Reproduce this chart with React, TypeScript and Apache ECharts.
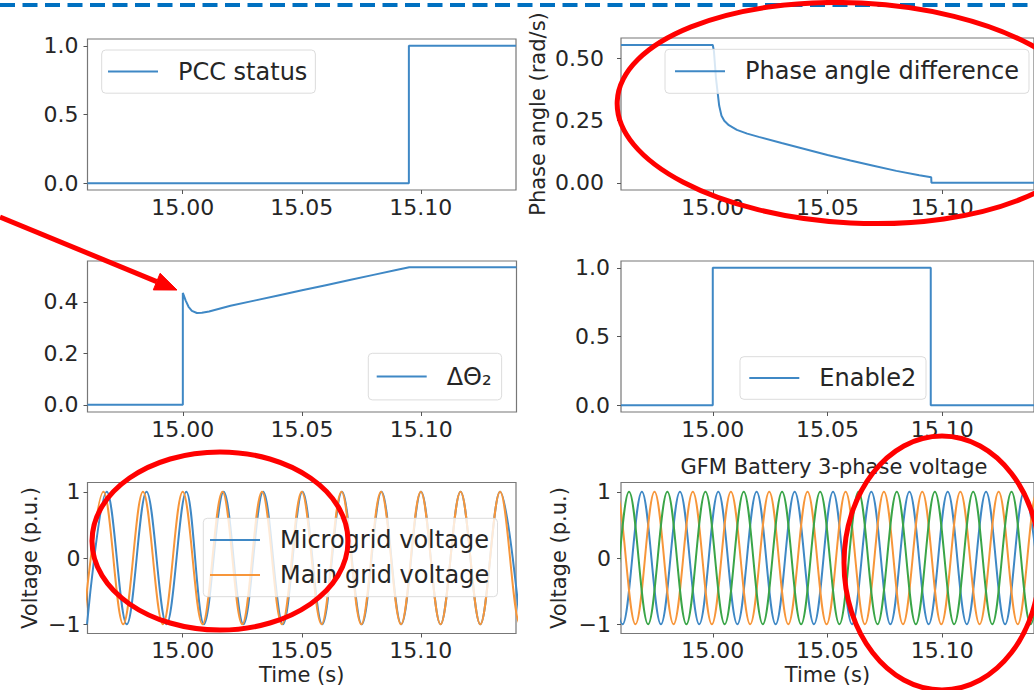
import React, { useEffect, useRef } from "react";
import * as echarts from "echarts";

// ---------- data ----------
const xMin = 14.96;
const xMax = 15.14;
const xTickValues = [15.0, 15.05, 15.1];

const pccTimes = [14.96, 15.095, 15.095, 15.14];
const pccValues = [0, 0, 1, 1];
const pccTicks = [0, 0.5, 1.0];

const phaseTimes = [14.96, 15.0, 15.0005, 15.0014, 15.0028, 15.0038, 15.005, 15.007, 15.0105, 15.015, 15.02, 15.03, 15.04, 15.05, 15.06, 15.07, 15.08, 15.09, 15.0952, 15.0953, 15.14];
const phaseValues = [0.555, 0.555, 0.53, 0.42, 0.31, 0.27, 0.25, 0.232, 0.213, 0.198, 0.185, 0.16, 0.136, 0.112, 0.09, 0.069, 0.048, 0.03, 0.022, 0.0, 0.0];
const phaseTicks = [0, 0.25, 0.5];

const dThetaTimes = [14.96, 15.0, 15.0, 15.0012, 15.0024, 15.0038, 15.0059, 15.008, 15.011, 15.02, 15.03, 15.04, 15.05, 15.06, 15.07, 15.08, 15.09, 15.095, 15.14];
const dThetaValues = [0, 0, 0.435, 0.405, 0.381, 0.365, 0.357, 0.358, 0.363, 0.385, 0.405, 0.425, 0.445, 0.465, 0.485, 0.505, 0.525, 0.535, 0.535];
const dThetaTicks = [0, 0.2, 0.4];

const enableTimes = [14.96, 15.0, 15.0, 15.095, 15.095, 15.14];
const enableValues = [0, 0, 1, 1, 0, 0];
const enableTicks = [0, 0.5, 1.0];

// sine waveforms: times of their peaks (+1) and troughs (-1)
const microPeaks = [14.9681, 14.9848, 15.0015, 15.0172, 15.0338, 15.0503, 15.0669, 15.0835, 15.1001, 15.1167, 15.1333];
const microTroughs = [14.9598, 14.9765, 14.9932, 15.0089, 15.0255, 15.0421, 15.0586, 15.0752, 15.0918, 15.1083, 15.125, 15.1417];
const mainPeaks = [14.9667, 14.9833, 15.0, 15.0167, 15.0333, 15.05, 15.0667, 15.0833, 15.1, 15.1167, 15.1333, 15.15];
const mainTroughs = [14.9583, 14.975, 14.9917, 15.0083, 15.025, 15.0417, 15.0583, 15.075, 15.0917, 15.1083, 15.125, 15.1417];

const phaseAPeaks = [14.9524, 14.9691, 14.9857, 15.0024, 15.0191, 15.0357, 15.0524, 15.0691, 15.0857, 15.1024, 15.1191, 15.1357];
const phaseATroughs = [14.9607, 14.9774, 14.9941, 15.0107, 15.0274, 15.0441, 15.0607, 15.0774, 15.0941, 15.1107, 15.1274, 15.1441];
const phaseBPeaks = [14.9579, 14.9746, 14.9913, 15.0079, 15.0246, 15.0413, 15.0579, 15.0746, 15.0913, 15.1079, 15.1246, 15.1413];
const phaseBTroughs = [14.9496, 14.9663, 14.9829, 14.9996, 15.0163, 15.0329, 15.0496, 15.0663, 15.0829, 15.0996, 15.1163, 15.1329, 15.1496];
const phaseCPeaks = [14.9468, 14.9635, 14.9802, 14.9968, 15.0135, 15.0302, 15.0468, 15.0635, 15.0802, 15.0968, 15.1135, 15.1302, 15.1468];
const phaseCTroughs = [14.9552, 14.9718, 14.9885, 15.0052, 15.0218, 15.0385, 15.0552, 15.0718, 15.0885, 15.1052, 15.1218, 15.1385];
const voltTicks = [-1, 0, 1];

// ---------- helpers ----------
const FONT = "DejaVu Sans";
const TXT = "#262626";
const BLUE = "#3f88c5";
const ORANGE = "#f7963a";
const GREEN = "#3aa548";

const pairs = (t: number[], v: number[]) => t.map((x, i) => [x, v[i]]);
const wave = (peaks: number[], troughs: number[]) => {
  const pts = [...peaks.map((t) => [t, 1]), ...troughs.map((t) => [t, -1])];
  pts.sort((a, b) => a[0] - b[0]);
  return pts;
};

const grids = [
  { left: 87.5, top: 39, width: 428.5, height: 151 },
  { left: 621, top: 38, width: 426, height: 152 },
  { left: 87.5, top: 261, width: 429, height: 151 },
  { left: 621, top: 261, width: 426, height: 151 },
  { left: 87.5, top: 482.5, width: 428.5, height: 151 },
  { left: 621, top: 482.5, width: 426, height: 151 },
];

const tickLine = { color: "#555", width: 1 };

function makeX(gridIndex: number, name?: string) {
  return {
    type: "value",
    gridIndex,
    min: xMin,
    max: xMax,
    axisLine: { show: false, onZero: false },
    splitLine: { show: false },
    axisTick: { show: true, inside: false, length: 4, customValues: xTickValues, lineStyle: tickLine },
    axisLabel: {
      customValues: xTickValues,
      formatter: (v: number) => v.toFixed(2),
      fontSize: 22,
      color: TXT,
      fontFamily: FONT,
      margin: 6,
    },
    name: name || "",
    nameLocation: "middle",
    nameGap: 31,
    nameTextStyle: { fontSize: 21, color: TXT, fontFamily: FONT },
  };
}

function makeY(gridIndex: number, min: number, max: number, ticks: number[], fmt: (v: number) => string, margin: number, name?: string, nameGap?: number) {
  return {
    type: "value",
    gridIndex,
    min,
    max,
    axisLine: { show: false, onZero: false },
    splitLine: { show: false },
    axisTick: { show: true, inside: false, length: 4, customValues: ticks, lineStyle: tickLine },
    axisLabel: { customValues: ticks, formatter: fmt, fontSize: 22, color: TXT, fontFamily: FONT, margin },
    name: name || "",
    nameLocation: "middle",
    nameGap: nameGap || 0,
    nameRotate: 90,
    nameTextStyle: { fontSize: 21, color: TXT, fontFamily: FONT },
  };
}

const legendText = { fontSize: 24, lineHeight: 24, color: TXT, fontFamily: FONT, padding: [0, 0, 0, 15] };
function makeLegend(names: string[], left: number, top: number, padding: number[], extra: any = {}) {
  return {
    data: names,
    left,
    top,
    padding,
    icon: "rect",
    itemWidth: 50,
    itemHeight: 2,
    selectedMode: false,
    backgroundColor: "rgba(255,255,255,0.8)",
    borderColor: "#dcdcdc",
    borderWidth: 1,
    borderRadius: 4,
    textStyle: legendText,
    ...extra,
  };
}

function lineSeries(name: string, idx: number, data: any[], color: string, smooth: number | boolean = false) {
  return {
    type: "line",
    name,
    xAxisIndex: idx,
    yAxisIndex: idx,
    data,
    symbol: "none",
    showSymbol: false,
    smooth,
    color,
    lineStyle: { color, width: 2 },
    itemStyle: { color },
    emphasis: { disabled: true },
  };
}

const minusFmt = (v: number) => (v < 0 ? "\u2212" + Math.abs(v) : String(v));

// arrow geometry (annotation)
const arrowTip = [177, 290];
const arrowBase = [156.7, 281.6];

export default function App() {
  const ref = useRef<HTMLDivElement>(null);
  useEffect(() => {
    if (!ref.current) return;
    const chart = echarts.init(ref.current, null, { renderer: "svg" });
    const option: any = {
      animation: false,
      backgroundColor: "#ffffff",
      textStyle: { fontFamily: FONT },
      title: {
        text: "GFM Battery 3-phase voltage",
        left: 834,
        top: 456.5,
        padding: 0,
        textAlign: "center",
        textStyle: { fontSize: 21, fontWeight: "normal", color: TXT, fontFamily: FONT },
      },
      grid: grids.map((g) => ({ ...g, show: true, borderColor: "#777", borderWidth: 1.2, backgroundColor: "transparent" })),
      xAxis: [makeX(0), makeX(1), makeX(2), makeX(3), makeX(4, "Time (s)"), makeX(5, "Time (s)")],
      yAxis: [
        makeY(0, -0.05, 1.05, pccTicks, (v) => v.toFixed(1), 9),
        makeY(1, -0.029, 0.583, phaseTicks, (v) => v.toFixed(2), 17, "Phase angle (rad/s)", 73),
        makeY(2, -0.028, 0.559, dThetaTicks, (v) => v.toFixed(1), 9),
        makeY(3, -0.05, 1.05, enableTicks, (v) => v.toFixed(1), 11),
        makeY(4, -1.14, 1.14, voltTicks, minusFmt, 7, "Voltage (p.u.)", 47),
        makeY(5, -1.14, 1.14, voltTicks, minusFmt, 10, "Voltage (p.u.)", 52),
      ],
      legend: [
        makeLegend(["PCC status"], 101.7, 50, [9.6, 8, 9.6, 6.3]),
        makeLegend(["Phase angle difference"], 665, 49.3, [10, 10, 10, 10]),
        makeLegend(["ΔΘ₂"], 368.3, 353.3, [11.3, 10, 11.3, 8.4]),
        makeLegend(["Enable2"], 740, 356.7, [9.3, 9.7, 9.3, 9.3]),
        makeLegend(["Microgrid voltage", "Main grid voltage"], 203.3, 518.3, [9.7, 8.3, 9.7, 6.7], { orient: "vertical", itemGap: 11 }),
      ],
      series: [
        lineSeries("PCC status", 0, pairs(pccTimes, pccValues), BLUE),
        lineSeries("Phase angle difference", 1, pairs(phaseTimes, phaseValues), BLUE),
        lineSeries("ΔΘ₂", 2, pairs(dThetaTimes, dThetaValues), BLUE),
        lineSeries("Enable2", 3, pairs(enableTimes, enableValues), BLUE),
        lineSeries("Microgrid voltage", 4, wave(microPeaks, microTroughs), BLUE, 0.36),
        lineSeries("Main grid voltage", 4, wave(mainPeaks, mainTroughs), ORANGE, 0.36),
        lineSeries("Phase A", 5, wave(phaseAPeaks, phaseATroughs), BLUE, 0.36),
        lineSeries("Phase B", 5, wave(phaseBPeaks, phaseBTroughs), ORANGE, 0.36),
        lineSeries("Phase C", 5, wave(phaseCPeaks, phaseCTroughs), GREEN, 0.36),
      ],
      graphic: [
        {
          type: "line",
          z: 100,
          shape: { x1: 0, y1: 5, x2: 1034, y2: 5 },
          style: { stroke: "#0070c0", lineWidth: 4, lineDash: [15, 7.5] },
        },
        {
          type: "ellipse",
          z: 100,
          x: 856,
          y: 113,
          rotation: -0.05,
          shape: { cx: 0, cy: 0, rx: 239, ry: 110 },
          style: { fill: "none", stroke: "#ff0000", lineWidth: 5 },
        },
        {
          type: "ellipse",
          z: 100,
          x: 220,
          y: 541,
          shape: { cx: 0, cy: 0, rx: 128, ry: 89 },
          style: { fill: "none", stroke: "#ff0000", lineWidth: 5 },
        },
        {
          type: "ellipse",
          z: 100,
          x: 942,
          y: 563,
          shape: { cx: 0, cy: 0, rx: 98, ry: 127 },
          style: { fill: "none", stroke: "#ff0000", lineWidth: 5 },
        },
        {
          type: "line",
          z: 100,
          shape: { x1: 0, y1: 217, x2: arrowBase[0], y2: arrowBase[1] },
          style: { stroke: "#ff0000", lineWidth: 5 },
        },
        {
          type: "polygon",
          z: 100,
          shape: { points: [arrowTip, [153.3, 289.9], [160.1, 273.3]] },
          style: { fill: "#ff0000", stroke: "#ff0000", lineWidth: 1 },
        },
      ],
    };
    chart.setOption(option);
    return () => chart.dispose();
  }, []);
  return <div ref={ref} style={{ position: "absolute", left: 0, top: 0, width: 1034, height: 690, overflow: "hidden" }} />;
}
